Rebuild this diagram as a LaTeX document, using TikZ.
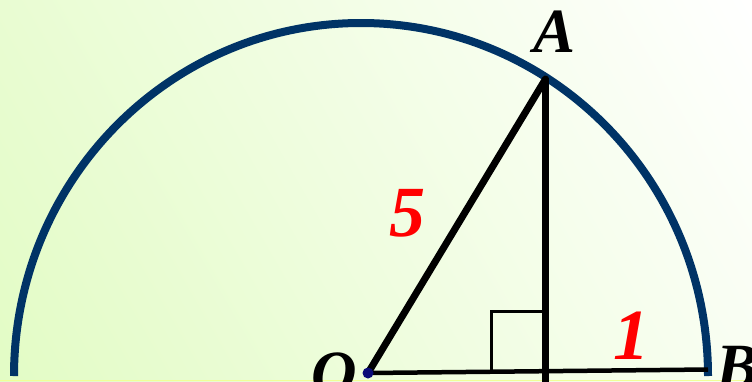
\documentclass[tikz,border=0pt]{standalone}
\usepackage{fontspec}
\setmainfont{Liberation Serif}
\definecolor{bgL}{RGB}{222,251,188}
\definecolor{bgW}{RGB}{255,255,255}
\definecolor{arcblue}{RGB}{0,51,102}
\definecolor{dotblue}{RGB}{10,10,120}
\definecolor{edge}{RGB}{240,255,150}
\tikzset{
  seg/.style={line width=7pt, black, line cap=round},
  lbl/.style={inner sep=0pt, anchor=base west, font=\fontsize{63}{63}\selectfont\bfseries\itshape},
  num/.style={inner sep=0pt, anchor=base west, text=red, font=\fontsize{72}{72}\selectfont\bfseries\itshape}
}
\begin{document}
\begin{tikzpicture}[x=1pt,y=-1pt]
\useasboundingbox (0,0) rectangle (752,381);
\clip (0,0) rectangle (752,381);
\shade[top color=bgW, bottom color=bgL, shading angle=-60] (-260,-120) rectangle (900,560);
\fill[edge] (0,379.5) rectangle (752,381);
% points
\coordinate (O) at (368,373);
\coordinate (A) at (545.5,79);
\coordinate (B) at (708,369.5);
\coordinate (Fb) at (545.5,384);
\coordinate (S1) at (491,372);
\coordinate (S2) at (491,311);
\coordinate (S3) at (545.5,311);
% arc
\draw[arcblue, line width=8pt] (361,376) ++(-347,0) arc[start angle=180, end angle=0, x radius=347, y radius=-353];
% lines
\draw[seg] (O) -- (A);
\draw[line width=7pt, black] (A) -- (Fb);
\draw[line width=4.5pt, black] (O) -- (B);
\draw[line width=3pt, black] (S1) -- (S2) -- (S3);
\fill[dotblue] (O) circle[radius=5.5pt];
% labels
\node[lbl] (lA) at (533,52) {A};
\node[lbl] (lO) at (311,394) {O};
\node[lbl] (lB) at (716,387) {B};
\node[num] (n5) at (389,236) {5};
\node[num] (n1) at (613,359) {1};
\end{tikzpicture}
\end{document}
